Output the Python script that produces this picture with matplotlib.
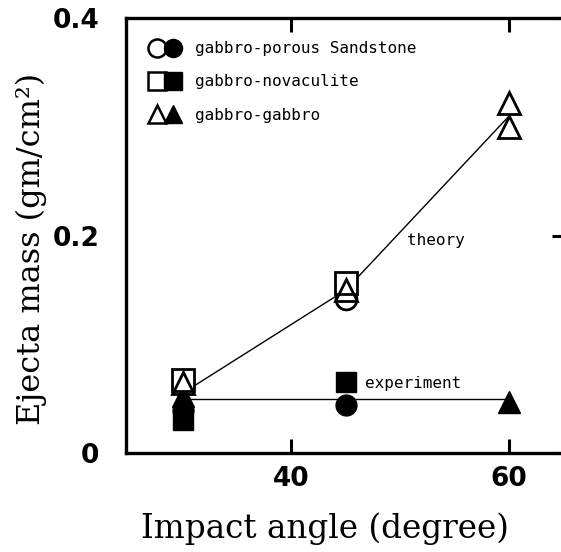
import matplotlib
matplotlib.use("Agg")
import matplotlib.pyplot as plt
from matplotlib.lines import Line2D
from matplotlib.legend_handler import HandlerTuple

# data
angle_sand = [30, 45]
sand_theory = [0.04, 0.142]      # open circles
sand_exp = [0.04, 0.044]         # filled circles

angle_nov = [30, 45]
nov_theory = [0.067, 0.156]      # open squares
nov_exp = [0.030, 0.065]         # filled squares

angle_gab = [30, 45, 60, 60]
gab_theory = [0.064, 0.150, 0.322, 0.300]   # open triangles
angle_gab_exp = [30, 60]
gab_exp = [0.052, 0.047]                    # filled triangles

line_angle = [30, 45, 60]
theory_line = [0.055, 0.150, 0.310]
exp_angle = [30, 60]
exp_line = [0.050, 0.050]

plot_font = 'DejaVu Sans Mono'

fig = plt.figure(figsize=(5.61, 5.52), dpi=100)
ax = fig.add_axes([0.2246, 0.1793, 0.78, 0.7880])

ax.plot(line_angle, theory_line, color='black', lw=1.0, zorder=2)
ax.plot(exp_angle, exp_line, color='black', lw=1.0, zorder=2)

# filled (experiment)
ax.plot(angle_sand, sand_exp, 'o', ms=15, color='black', zorder=3)
ax.plot(angle_gab_exp, gab_exp, '^', ms=16, color='black', zorder=3)
ax.plot(angle_nov, nov_exp, 's', ms=15, color='black', zorder=3)
# open (theory)
ax.plot([angle_sand[1]], [sand_theory[1]], 'o', ms=15, mfc='white', mec='black', mew=2, zorder=4)
ax.plot(angle_nov, nov_theory, 's', ms=16, mfc='white', mec='black', mew=2, zorder=4)
ax.plot(angle_gab, gab_theory, '^', ms=16, mfc='none', mec='black', mew=2, zorder=5)

ax.text(50.6, 0.191, 'theory', fontsize=11.5, family=plot_font)
ax.text(46.8, 0.060, 'experiment', fontsize=11.5, family=plot_font)

# legend with open/filled pairs
def pair(m):
    o = Line2D([], [], marker=m, ls='none', ms=13, mfc='white', mec='black', mew=1.8)
    f = Line2D([], [], marker=m, ls='none', ms=13, color='black')
    return (o, f)

leg = ax.legend([pair('o'), pair('s'), pair('^')],
                ['gabbro-porous Sandstone', 'gabbro-novaculite', 'gabbro-gabbro'],
                handler_map={tuple: HandlerTuple(ndivide=None, pad=0.05)},
                loc='upper left', bbox_to_anchor=(0.02, 0.98), frameon=False,
                handlelength=2.0, handletextpad=0.9, labelspacing=1.15,
                prop={'family': plot_font, 'size': 11.5})

ax.set_xlim(24.8, 65)
ax.set_ylim(0, 0.4)
ax.set_xticks([40, 60])
ax.set_yticks([0, 0.2, 0.4])
ax.set_yticklabels(['0', '0.2', '0.4'])

for lab in ax.get_xticklabels() + ax.get_yticklabels():
    lab.set_family('DejaVu Sans')
    lab.set_fontweight('bold')
    lab.set_fontsize(19)

ax.tick_params(axis='x', direction='in', length=10, width=2.2, top=True, pad=9)
ax.tick_params(axis='y', direction='in', length=0, width=2.2, pad=19)
ax.tick_params(axis='y', which='both', right=True)
for t in ax.yaxis.get_major_ticks():
    t.tick2line.set_markersize(9)

for s in ['left', 'bottom', 'top']:
    ax.spines[s].set_linewidth(2.4)
ax.spines['right'].set_visible(False)

ax.set_xlabel('Impact angle (degree)', family='DejaVu Serif', fontsize=23.5, labelpad=15)
ax.xaxis.label.set_x(0.455)
ax.set_ylabel('Ejecta mass (gm/cm\u00b2)', family='DejaVu Serif', fontsize=23, labelpad=4)
ax.yaxis.label.set_y(0.47)

fig.savefig('out.png', dpi=100)
